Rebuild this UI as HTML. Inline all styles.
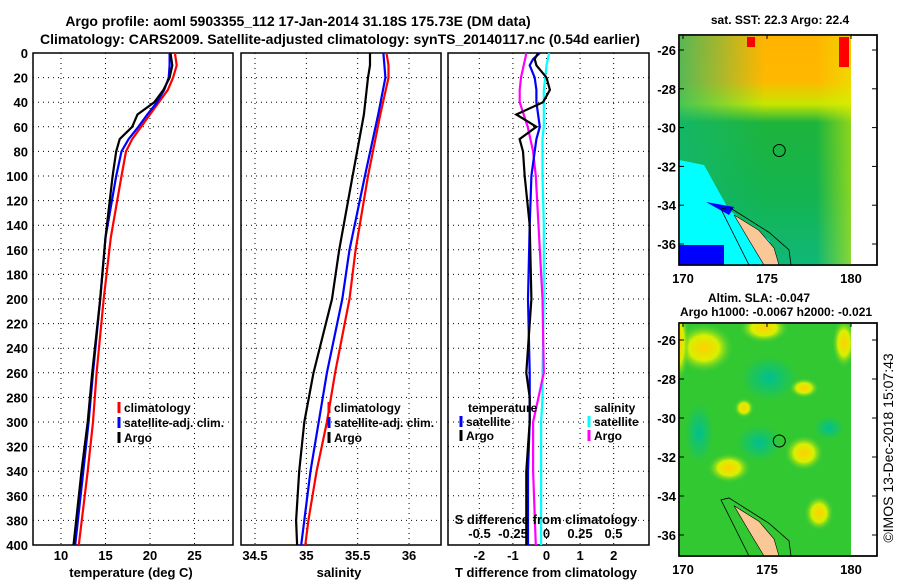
<!DOCTYPE html>
<html><head><meta charset="utf-8"><style>
body{margin:0;background:#fff;width:900px;height:580px;overflow:hidden}
svg text{font-family:"Liberation Sans",sans-serif;font-weight:bold;fill:#000}
svg text.norm{font-weight:normal}
</style></head><body>
<svg id="chart" width="900" height="580" xmlns="http://www.w3.org/2000/svg">
<defs>
<linearGradient id="sstg" x1="0" y1="0" x2="0" y2="1">
<stop offset="0" stop-color="#ffb400"/><stop offset="0.2" stop-color="#ffb800"/>
<stop offset="0.3" stop-color="#c8e600"/><stop offset="0.38" stop-color="#1eb43c"/>
<stop offset="0.7" stop-color="#14b450"/><stop offset="1" stop-color="#10b878"/>
</linearGradient>
<linearGradient id="sstg2" x1="0" y1="0" x2="1" y2="0">
<stop offset="0" stop-color="#10b878" stop-opacity="0.7"/><stop offset="0.5" stop-color="#10b878" stop-opacity="0"/>
<stop offset="0.8" stop-color="#e6f000" stop-opacity="0"/><stop offset="1" stop-color="#e6f000" stop-opacity="0.55"/>
</linearGradient>
<radialGradient id="yb"><stop offset="0" stop-color="#ffd000"/><stop offset="0.5" stop-color="#d8f000"/><stop offset="1" stop-color="#3cc83c" stop-opacity="0"/></radialGradient>
<radialGradient id="tb"><stop offset="0" stop-color="#00c090"/><stop offset="1" stop-color="#00c090" stop-opacity="0"/></radialGradient>
<clipPath id="clipTop"><rect x="679" y="35" width="172" height="230"/></clipPath>
<clipPath id="clipBot"><rect x="679" y="323" width="172" height="233"/></clipPath>
</defs>
<g id="root"></g>
</svg>
<script>
// ---- data ----
const depthsT=[0,10,20,30,40,50,60,70,80,100,150,200,260,300,340,400];
const tempArgo=[22.3,22.5,22.2,21.5,20.5,18.6,18.0,16.6,16.2,15.8,15.0,14.4,13.5,13.0,12.3,11.4];
const tempClim=[22.8,23.0,22.6,22.0,21.0,20.0,19.0,18.0,17.3,16.8,15.6,14.8,14.0,13.6,13.0,12.0];
const tempSat=[22.2,22.2,22.1,21.6,20.8,19.7,18.7,17.6,16.8,16.2,15.0,14.4,13.6,13.1,12.5,11.6];
const depthsS=[0,10,20,50,100,160,200,260,300,340,380,400];
const salArgo=[35.62,35.62,35.60,35.56,35.45,35.32,35.25,35.07,34.98,34.93,34.90,34.91];
const salClim=[35.78,35.80,35.80,35.72,35.60,35.48,35.42,35.28,35.20,35.10,35.02,34.99];
const salSat=[35.75,35.76,35.77,35.70,35.57,35.42,35.35,35.20,35.12,35.04,34.98,34.95];
const depthsD=[0,5,10,20,30,40,50,60,70,80,100,140,200,260,280,300,340,400];
const dTArgo=[-0.25,-0.35,-0.3,0,0.1,-0.1,-0.9,-0.3,-0.8,-0.7,-0.65,-0.5,-0.45,-0.6,-0.5,-0.5,-0.6,-0.6];
const dTSat=[-0.2,-0.4,-0.5,-0.35,-0.3,-0.3,-0.25,-0.2,-0.3,-0.35,-0.45,-0.5,-0.55,-0.5,-0.5,-0.5,-0.55,-0.55];
const dSSat=[0.02,0.01,0,-0.01,-0.02,-0.02,-0.02,-0.02,-0.03,-0.03,-0.03,-0.02,-0.02,-0.03,-0.03,-0.04,-0.04,-0.04];
const dSArgo=[-0.15,-0.16,-0.17,-0.19,-0.2,-0.2,-0.17,-0.14,-0.12,-0.1,-0.08,-0.06,-0.03,-0.02,-0.06,-0.1,-0.1,-0.08];
const depthTicks=[0,20,40,60,80,100,120,140,160,180,200,220,240,260,280,300,320,340,360,380,400];
const tTicks=[10,15,20,25];
const sTicks=[34.5,35,35.5,36];
const dTTicks=[-2,-1,0,1,2];
const dSTicks=[-0.5,-0.25,0,0.25,0.5];
const dSLabels=["-0.5","-0.25","0","0.25","0.5"];
const latTicks=[-26,-28,-30,-32,-34,-36];
const lonTicks=[170,175,180];

const NS="http://www.w3.org/2000/svg";
const root=document.getElementById('root');
function mk(tag,attrs,parent){const e=document.createElementNS(NS,tag);for(const k in attrs)e.setAttribute(k,attrs[k]);(parent||root).appendChild(e);return e;}
function txt(x,y,s,size,anchor,parent){const t=mk('text',{x:x,y:y,'font-size':size,'text-anchor':anchor||'middle'},parent);t.textContent=s;return t;}

const Y0=53,Y1=545;
const yD=d=>Y0+d*(Y1-Y0)/400;
const xT=v=>61+(v-10)*8.9;
const xS=v=>255+(v-34.5)*102.7;
const xDT=v=>546.5+v*33.6;
const xDS=v=>546.5+v*134;

function panel(name,x0,x1){
  const g=mk('g',{});
  
  
  mk('rect',{x:x0,y:Y0,width:x1-x0,height:Y1-Y0,fill:'#fff',stroke:'#000','stroke-width':1.5},g);
  return g;
}
function grid(g,x0,x1,xs){
  depthTicks.forEach(d=>{if(d>0&&d<400)mk('line',{x1:x0,x2:x1,y1:yD(d),y2:yD(d),stroke:'#000','stroke-dasharray':'1 4'},g);});
  xs.forEach(x=>mk('line',{x1:x,x2:x,y1:Y0,y2:Y1,stroke:'#000','stroke-dasharray':'1 4'},g));
}
function line(g,name,xs,ds,fx,color){
  const pts=xs.map((v,i)=>fx(v).toFixed(1)+','+yD(ds[i]).toFixed(1)).join(' ');
  const p=mk('polyline',{points:pts,fill:'none',stroke:color,'stroke-width':2.2},g);
  
  
}
function legend(g,x,y,color,label){
  mk('line',{x1:x,x2:x,y1:y-10,y2:y+1,stroke:color,'stroke-width':3},g);
  txt(x+5,y,label,12,'start',g);
}

// titles
const t1=txt(298,26,'Argo profile: aoml 5903355_112 17-Jan-2014 31.18S 175.73E (DM data)',14);

const t2=txt(340,44,'Climatology: CARS2009. Satellite-adjusted climatology: synTS_20140117.nc (0.54d earlier)',14);


// depth labels
depthTicks.forEach(d=>txt(28,yD(d)+5,String(d),13,'end'));

// panel 1
const p1=panel('temperature-panel',33,233);
grid(p1,33,233,tTicks.map(xT));
line(p1,'temp-climatology',tempClim,depthsT,xT,'#f00');
line(p1,'temp-satellite-adj',tempSat,depthsT,xT,'#00f');
line(p1,'temp-argo',tempArgo,depthsT,xT,'#000');
tTicks.forEach(v=>txt(xT(v),560,String(v),13));
txt(131,577,'temperature (deg C)',13);
legend(p1,119,412,'#f00','climatology');
legend(p1,119,427,'#00f','satellite-adj. clim.');
legend(p1,119,442,'#000','Argo');

// panel 2
const p2=panel('salinity-panel',241,441);
grid(p2,241,441,sTicks.map(xS));
line(p2,'sal-climatology',salClim,depthsS,xS,'#f00');
line(p2,'sal-satellite-adj',salSat,depthsS,xS,'#00f');
line(p2,'sal-argo',salArgo,depthsS,xS,'#000');
sTicks.forEach(v=>txt(xS(v),560,String(v),13));
txt(339,577,'salinity',13);
legend(p2,329,412,'#f00','climatology');
legend(p2,329,427,'#00f','satellite-adj. clim.');
legend(p2,329,442,'#000','Argo');

// panel 3
const p3=panel('difference-panel',448,649);
grid(p3,448,649,dTTicks.map(xDT));
line(p3,'dS-satellite',dSSat,depthsD,xDS,'#0ff');
line(p3,'dS-argo',dSArgo,depthsD,xDS,'#f0f');
line(p3,'dT-satellite',dTSat,depthsD,xDT,'#00f');
line(p3,'dT-argo',dTArgo,depthsD,xDT,'#000');
dTTicks.forEach(v=>txt(xDT(v),560,String(v),13));
txt(546,577,'T difference from climatology',13);
dSTicks.forEach((v,i)=>txt(xDS(v),538,dSLabels[i],13));
txt(546,524,'S difference from climatology',13);
txt(468,412,'temperature',12,'start',p3);
txt(594,412,'salinity',12,'start',p3);
legend(p3,461,426,'#00f','satellite');
legend(p3,461,440,'#000','Argo');
legend(p3,589,426,'#0ff','satellite');
legend(p3,589,440,'#f0f','Argo');

// maps
function mapPanel(name,top,bottom,latY,kind,clip){
  const g=mk('g',{});
  
  
  const lonX=l=>683+(l-170)*16.8;
  mk('rect',{x:679,y:top,width:198,height:bottom-top,fill:'#fff',stroke:'#000','stroke-width':1.5},g);
  const cg=mk('g',{'clip-path':'url(#'+clip+')'},g);
  const cx=679,cw=851-679;
  if(kind==='sst'){
    mk('rect',{x:cx,y:top,width:cw,height:bottom-top,fill:'url(#sstg)'},cg);
    mk('rect',{x:cx,y:top,width:cw,height:bottom-top,fill:'url(#sstg2)'},cg);
    mk('polygon',{points:`${cx},${top+125} ${cx+25},${top+130} ${cx+50},${top+175} ${cx+90},${top+205} ${cx+100},${bottom} ${cx},${bottom}`,fill:'#00ffff'},cg);
    mk('rect',{x:cx,y:bottom-20,width:45,height:20,fill:'#0000ff'},cg);
    mk('polygon',{points:`${cx+27},${top+167} ${cx+55},${top+172} ${cx+50},${top+180}`,fill:'#0000ff'},cg);
    mk('rect',{x:cx+160,y:top+2,width:10,height:30,fill:'#ff0000'},cg);
    mk('rect',{x:cx+68,y:top+2,width:8,height:10,fill:'#ff0000'},cg);
  } else {
    mk('rect',{x:cx,y:top,width:cw,height:bottom-top,fill:'#32c832'},cg);
    [[cx+25,top+25,30,25],[cx+85,top+5,25,15],[cx+165,top+20,12,25],[cx+125,top+65,15,10],[cx+65,top+85,10,10],[cx+125,top+130,20,18],[cx+50,top+145,22,15],[cx+140,top+190,15,18],[cx,top+20,10,40]].forEach(b=>mk('ellipse',{cx:b[0],cy:b[1],rx:b[2],ry:b[3],fill:'url(#yb)'},cg));
    [[cx+90,top+55,28,22],[cx+20,top+110,14,30],[cx+80,top+120,22,18],[cx+150,top+105,15,12]].forEach(b=>mk('ellipse',{cx:b[0],cy:b[1],rx:b[2],ry:b[3],fill:'url(#tb)'},cg));
  }
  mk('polygon',{points:`${cx+50},${latY(-34.1)} ${cx+90},${latY(-35.4)} ${cx+110},${latY(-36.3)} ${cx+112},${bottom} ${cx+70},${bottom} ${cx+42},${latY(-34.2)}`,fill:'none',stroke:'#000','stroke-width':0.8},cg);
  mk('polygon',{points:`${cx+55},${latY(-34.5)} ${cx+80},${latY(-35.3)} ${cx+95},${latY(-36.2)} ${cx+100},${bottom} ${cx+85},${bottom} ${cx+70},${latY(-35.8)}`,fill:'#fac896',stroke:'#000','stroke-width':0.6},cg);
  mk('rect',{x:679,y:top,width:198,height:bottom-top,fill:'none',stroke:'#000','stroke-width':1.5},g);
  const c=mk('circle',{cx:lonX(175.73),cy:latY(-31.18),r:6,fill:'none',stroke:'#000','stroke-width':1},g);
  
  latTicks.forEach(l=>{txt(676,latY(l)+5,String(l),13,'end');mk('line',{x1:679,x2:684,y1:latY(l),y2:latY(l),stroke:'#000'},g);mk('line',{x1:872,x2:877,y1:latY(l),y2:latY(l),stroke:'#000'},g);});
  lonTicks.forEach(l=>{txt(lonX(l),bottom+18,String(l),13);mk('line',{x1:lonX(l),x2:lonX(l),y1:top,y2:top+4,stroke:'#000'},g);});
}
mapPanel('sst-map',35,265,l=>50+(-26-l)*19.4,'sst','clipTop');
txt(780,24,'sat. SST: 22.3 Argo: 22.4',12);
mapPanel('sla-map',323,556,l=>340+(-26-l)*19.5,'sla','clipBot');
txt(759,302,'Altim. SLA: -0.047',12);
txt(776,316,'Argo h1000: -0.0067 h2000: -0.021',12);
const cr=txt(0,0,'©IMOS 13-Dec-2018 15:07:43',14);
cr.setAttribute('transform','translate(893,448) rotate(-90)');
cr.setAttribute('class','norm');

</script>
</body></html>
